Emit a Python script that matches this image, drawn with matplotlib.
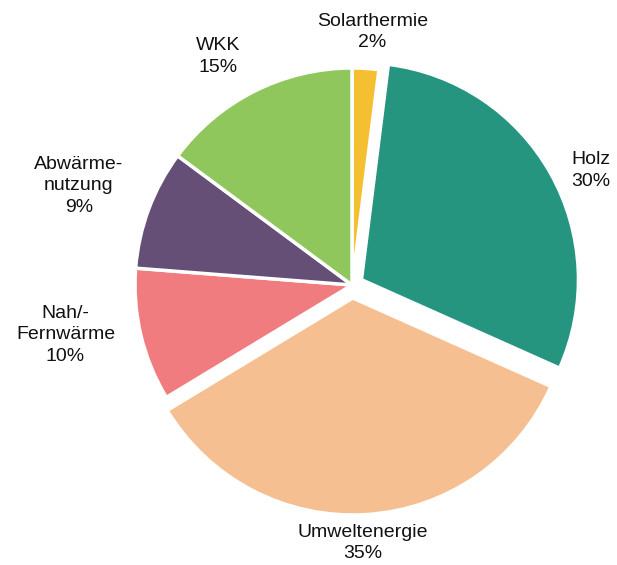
import numpy as np
import matplotlib
matplotlib.use("Agg")
import matplotlib.pyplot as plt

plt.rcParams['font.family'] = ['Liberation Sans', 'DejaVu Sans']

# Shares of heat generation by source (percent)
categories = ["Solarthermie", "Holz", "Umweltenergie", "Nah/-\nFernwärme",
              "Abwärme-\nnutzung", "WKK"]
values = [2, 30, 35, 10, 9, 15]
colors = ["#F4BF30", "#26957F", "#F5BF91", "#F17C80", "#654F77", "#8FC75C"]

# Layout
explode = [0.0, 0.05, 0.06, 0.0, 0.0, 0.0]
label_r = [1.17, 1.17, 1.13, 1.34, 1.34, 1.22]
label_dtheta = [-1.0, -4.0, -1.2, -3.5, 0.5, 3.6]

W, H, dpi = 617, 565, 100
cx, cy, R = 352, 285, 217

fig = plt.figure(figsize=(W / dpi, H / dpi), dpi=dpi)
ax = fig.add_axes([0, 0, 1, 1])

wedges, _ = ax.pie(values, colors=colors, startangle=90, counterclock=False,
                   explode=explode, radius=1.0,
                   wedgeprops=dict(edgecolor="white", linewidth=2.5))

for w, name, v, r, dt, ex in zip(wedges, categories, values, label_r,
                                 label_dtheta, explode):
    mid = np.deg2rad((w.theta1 + w.theta2) / 2)
    ox, oy = ex * np.cos(mid), ex * np.sin(mid)
    ang = mid + np.deg2rad(dt)
    ax.text(ox + r * np.cos(ang), oy + r * np.sin(ang), f"{name}\n{v}%",
            ha="center", va="center", multialignment="center",
            fontsize=14, linespacing=1.35, color="#111111")

ax.set_aspect("auto")
ax.set_xlim(-cx / R, (W - cx) / R)
ax.set_ylim(-(H - cy) / R, cy / R)
ax.axis("off")

fig.savefig("out.png", dpi=dpi, facecolor="white")
